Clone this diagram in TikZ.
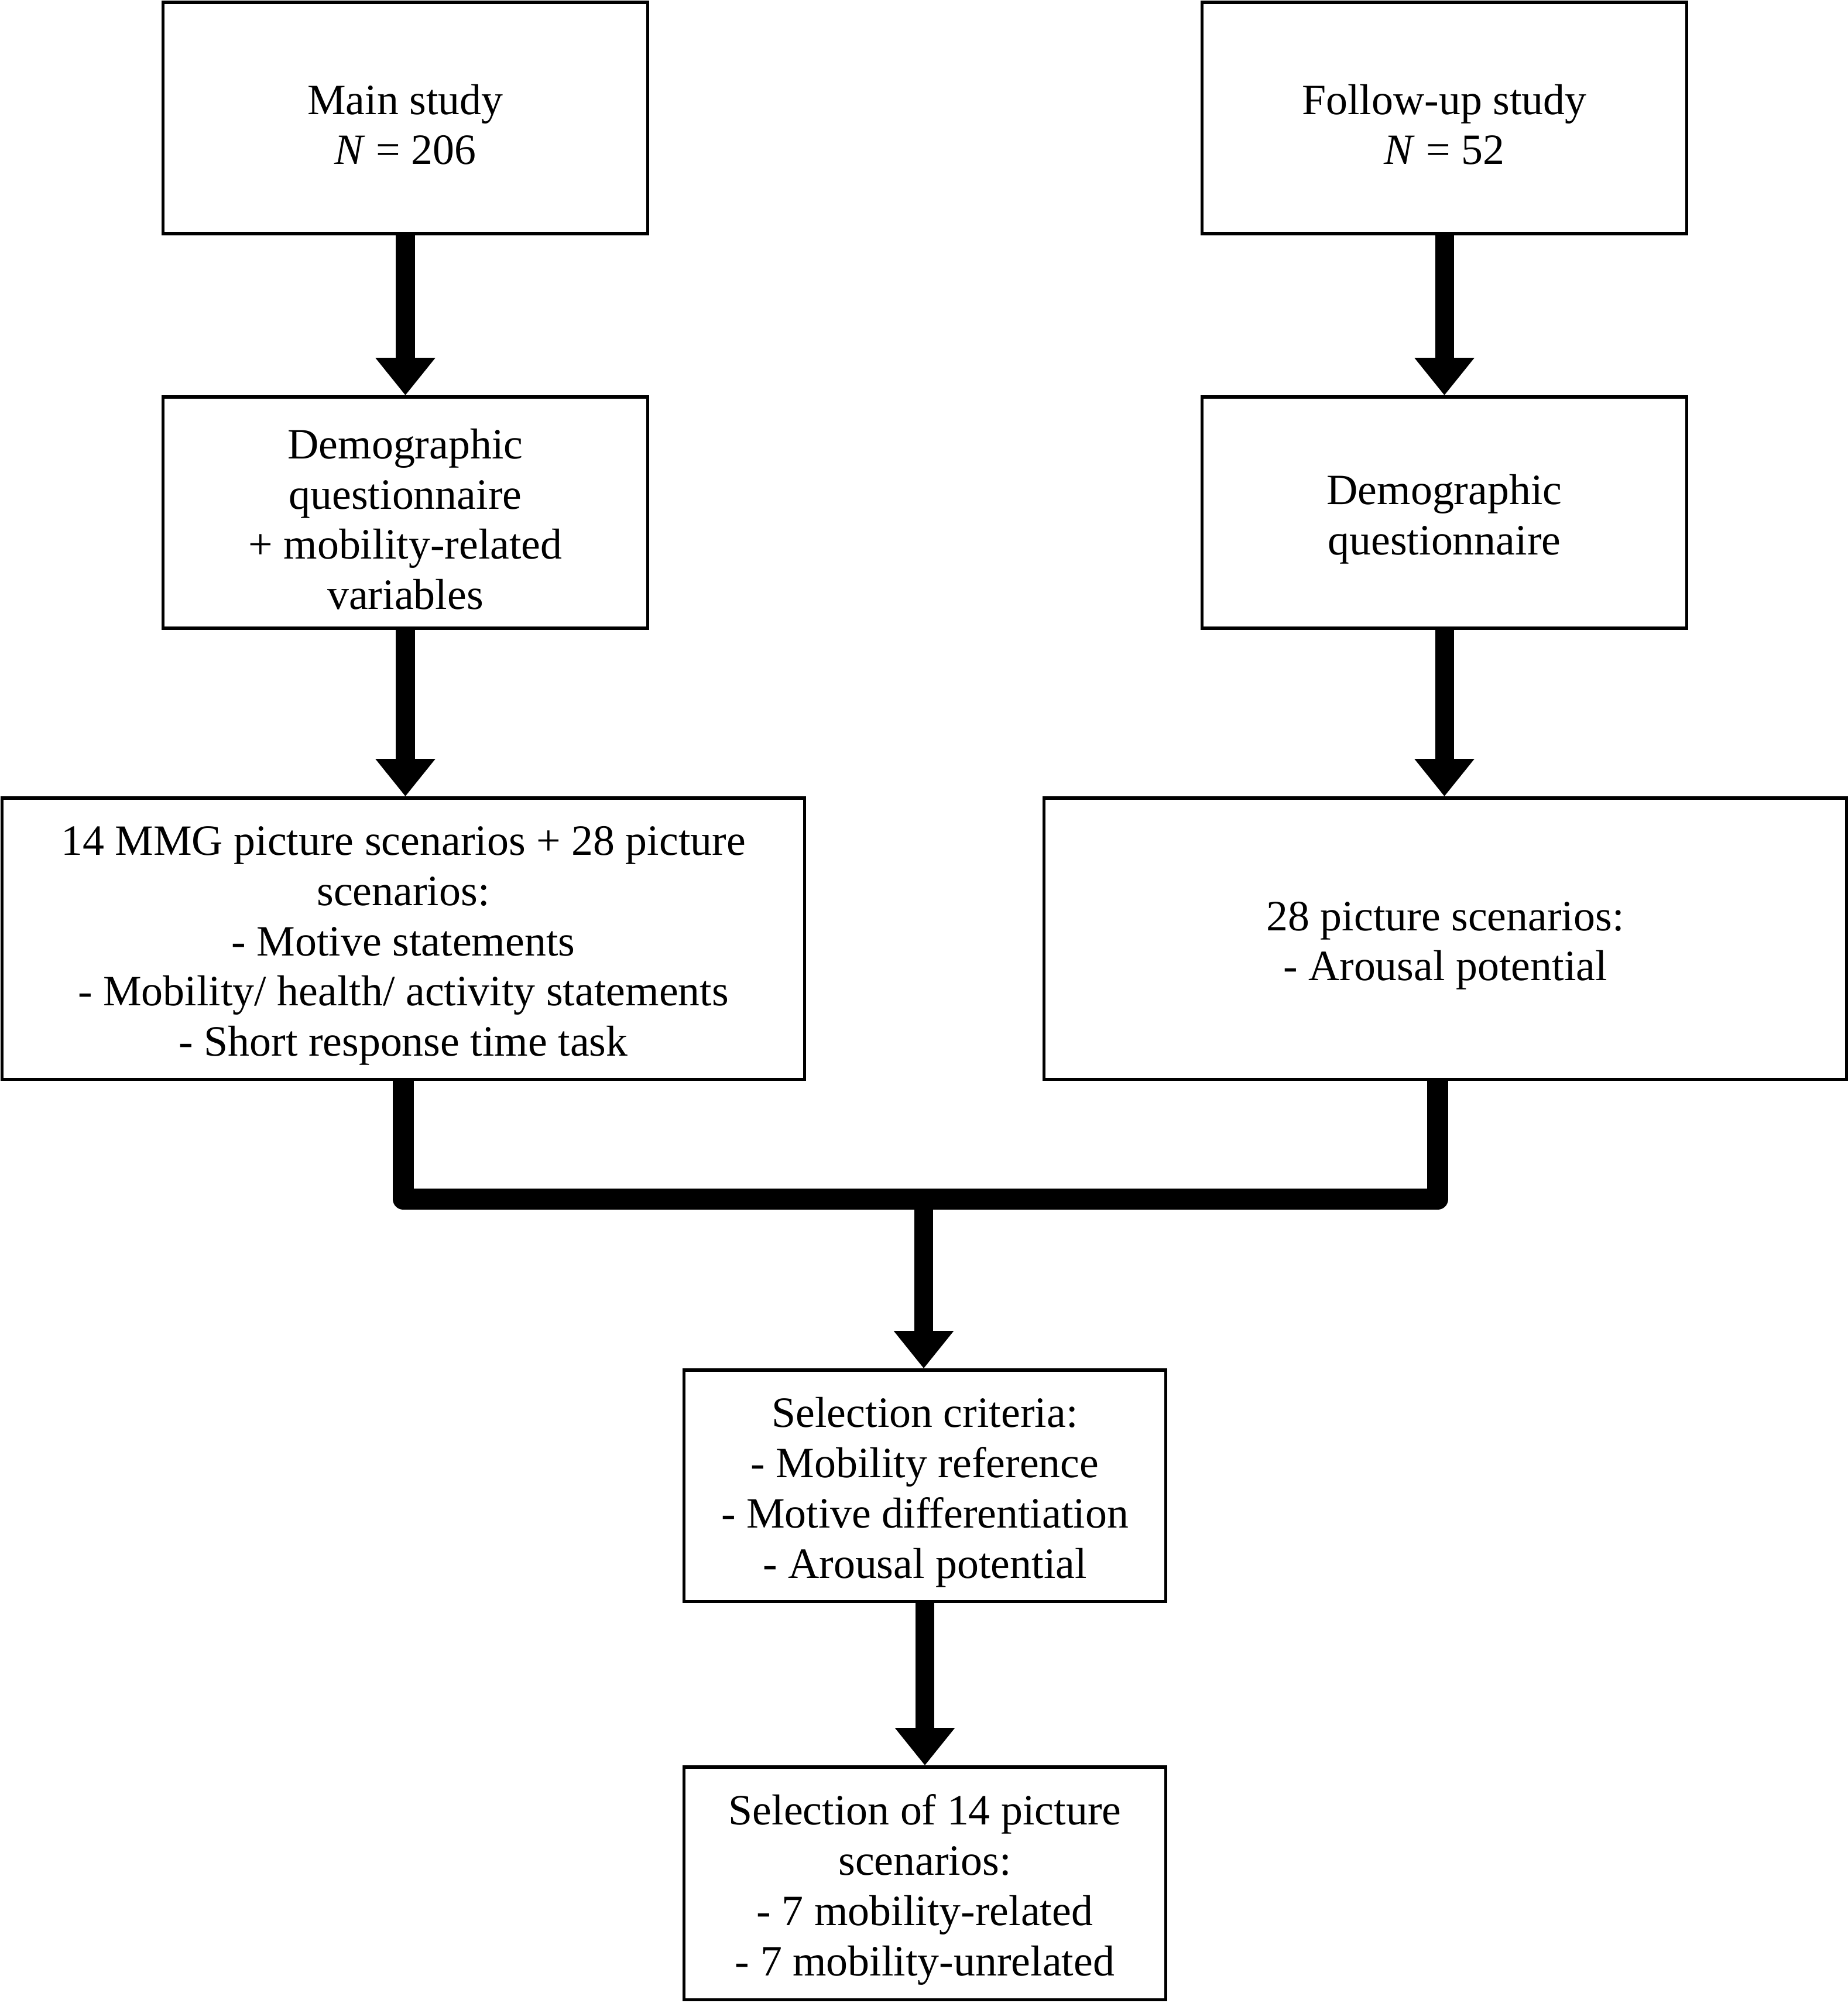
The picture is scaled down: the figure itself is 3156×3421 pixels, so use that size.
\documentclass[tikz,border=0pt]{standalone}
\usepackage{fontspec}
\setmainfont{Liberation Serif}
\usetikzlibrary{arrows.meta}
\newcommand{\topstrut}{\rule{0pt}{21pt}}
\begin{document}
\begin{tikzpicture}[x=0.01cm,y=-0.01cm,
  box/.style={draw, line width=1.5pt, inner sep=0pt, align=center, font=\fontsize{21}{24.4}\selectfont},
  smallbox/.style={box, minimum width=8.27cm, minimum height=3.95cm},
  widebox/.style={box, minimum width=13.7cm, minimum height=4.8cm},
  bigarrow/.style={line width=0.32cm, -{Triangle[width=0.98cm,length=0.64cm]}},
  merge/.style={line width=0.36cm, line join=round}]
\useasboundingbox (0,0) rectangle (3156,3421);
\node[smallbox] (b1) at (692.5,201.5) {\topstrut Main study\\\textit{N} = 206};
\node[smallbox] (b2) at (2467.5,201.5) {\topstrut Follow-up study\\\textit{N} = 52};
\node[smallbox] (b3) at (692.5,875.5) {\topstrut Demographic\\questionnaire\\+ mobility-related\\variables};
\node[smallbox] (b4) at (2467.5,875.5) {\topstrut Demographic\\questionnaire};
\node[widebox] (b5) at (689,1603) {\topstrut 14 MMG picture scenarios + 28 picture\\scenarios:\\- Motive statements\\- Mobility/ health/ activity statements\\- Short response time task};
\node[widebox] (b6) at (2469,1603) {\topstrut 28 picture scenarios:\\- Arousal potential};
\node[box, minimum width=8.22cm, minimum height=3.95cm] (b7) at (1580,2537.5) {\topstrut Selection criteria:\\- Mobility reference\\- Motive differentiation\\- Arousal potential};
\node[box, minimum width=8.22cm, minimum height=3.97cm] (b8) at (1580,3216.5) {\topstrut Selection of 14 picture\\scenarios:\\- 7 mobility-related\\- 7 mobility-unrelated};
\draw[bigarrow] (b1.south) -- (b3.north);
\draw[bigarrow] (b2.south) -- (b4.north);
\draw[bigarrow] (b3.south) -- (b5.north -| b3.south);
\draw[bigarrow] (b4.south) -- (b6.north -| b4.south);
\coordinate (jl) at (689,2048);
\coordinate (jr) at (2456,2048);
\coordinate (jm) at (1578,2048);
\draw[merge] (b5.south) -- (jl) -- (jr) -- (jr |- b6.south);
\draw[bigarrow] (jm) -- (jm |- b7.north);
\draw[bigarrow] (b7.south) -- (b8.north);
\end{tikzpicture}
\end{document}
